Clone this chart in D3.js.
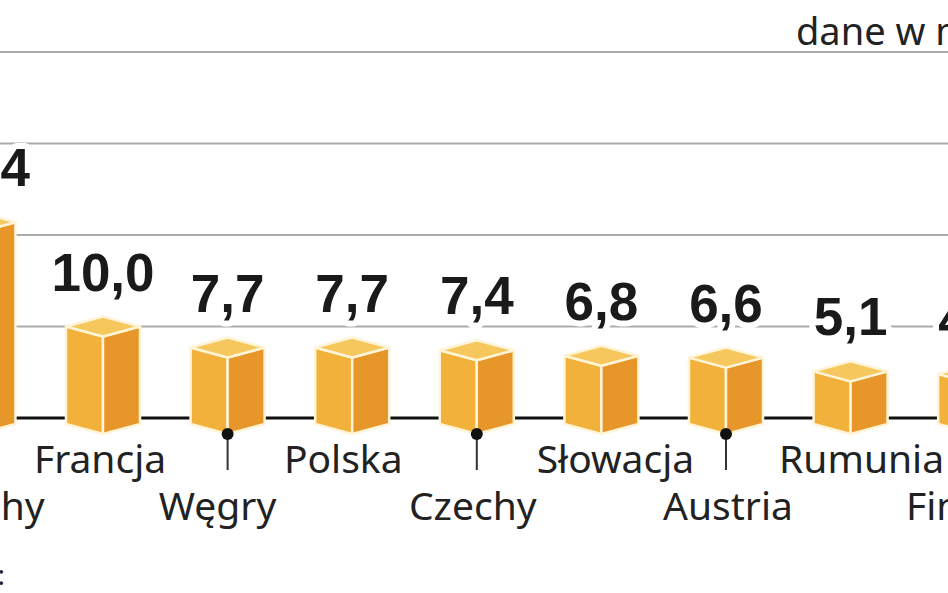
<!DOCTYPE html>
<html>
<head>
<meta charset="utf-8">
<script src="https://cdn.jsdelivr.net/npm/d3@7"></script>
<style>
  body { margin: 0; background: #fff; }
  svg { display: block; }
</style>
</head>
<body>
<svg id="chart"></svg>
<script>
// values (chart is cropped on both sides)
const categories = ['Włochy', 'Francja', 'Węgry', 'Polska', 'Czechy', 'Słowacja', 'Austria', 'Rumunia', 'Finlandia'];
const values = [21.4, 10.0, 7.7, 7.7, 7.4, 6.8, 6.6, 5.1, 4.8];
const gridTicks = [10, 20, 30, 40];
const unitNote = 'dane w mln';
const sourceNote = 'Źródło:';

const width = 948;
const height = 593;
const baseY = 418;
const depth = 10;

const colors = {
  top: '#f6c75c',
  left: '#f1b13a',
  right: '#e7962a',
  edge: '#fff4d6'
};

// hand nudges of the country names, as in the original layout
const labelNudge = { 'Francja': -3, 'Węgry': -10, 'Polska': -9, 'Czechy': -4, 'Słowacja': 14, 'Austria': 2, 'Rumunia': 11, 'Finlandia': 14 };

const svg = d3.select('#chart')
  .attr('width', width)
  .attr('height', height);

const x = d3.scaleBand()
  .domain(categories)
  .range([-58.6, 1012.2])
  .paddingInner(0.406)
  .paddingOuter(0);

const y = d3.scaleLinear()
  .domain([0, 40])
  .range([baseY, 52]);

const fmt = v => d3.format('.1f')(v).replace('.', ',');
const cx = d => x(d.name) + x.bandwidth() / 2;

// grid
svg.append('g')
  .selectAll('line')
  .data(gridTicks)
  .join('line')
  .attr('x1', 0)
  .attr('x2', width)
  .attr('y1', d => y(d))
  .attr('y2', d => y(d))
  .attr('stroke', '#ababab')
  .attr('stroke-width', 2);

// zero line
svg.append('line')
  .attr('x1', 0)
  .attr('x2', width)
  .attr('y1', y(0))
  .attr('y2', y(0))
  .attr('stroke', '#111')
  .attr('stroke-width', 3);

// unit note
svg.append('text')
  .attr('x', 796)
  .attr('y', 45)
  .attr('font-family', '"Noto Sans", sans-serif')
  .attr('font-size', 38)
  .attr('fill', '#222')
  .text(unitNote);

svg.append('text')
  .attr('x', 5)
  .attr('y', 585)
  .attr('text-anchor', 'end')
  .attr('font-family', '"Noto Sans", sans-serif')
  .attr('font-size', 28)
  .attr('fill', '#222')
  .text(sourceNote);

const data = categories.map((c, i) => ({ name: c, value: values[i], i }));

// value labels with white halo so grid lines break around them
svg.append('g')
  .selectAll('text')
  .data(data)
  .join('text')
  .attr('x', cx)
  .attr('y', d => y(d.value) - 36)
  .attr('text-anchor', 'middle')
  .attr('font-family', '"Liberation Sans", Arial, sans-serif')
  .attr('font-weight', 'bold')
  .attr('font-size', 53)
  .attr('fill', '#1a1a1a')
  .attr('stroke', '#fff')
  .attr('stroke-width', 12)
  .attr('stroke-linejoin', 'round')
  .attr('paint-order', 'stroke')
  .text(d => fmt(d.value));

// cubes
const cube = svg.append('g')
  .selectAll('g')
  .data(data)
  .join('g')
  .attr('stroke', colors.edge)
  .attr('stroke-width', 2.5)
  .attr('stroke-linejoin', 'round');

const pts = arr => arr.map(p => p.join(',')).join(' ');

cube.each(function (d) {
  const g = d3.select(this);
  const l = x(d.name);
  const r = l + x.bandwidth();
  const c = cx(d);
  const t = y(d.value);
  const b = baseY + 6;

  g.append('polygon')
    .attr('fill', colors.left)
    .attr('points', pts([[l, t], [c, t + depth], [c, b + depth], [l, b]]));
  g.append('polygon')
    .attr('fill', colors.right)
    .attr('points', pts([[c, t + depth], [r, t], [r, b], [c, b + depth]]));
  g.append('polygon')
    .attr('fill', colors.top)
    .attr('points', pts([[c, t - depth], [r, t], [c, t + depth], [l, t]]));
});

// category labels, alternating rows; lower row gets a leader pin
const lower = data.filter(d => d.i % 2 === 0);

svg.append('g')
  .selectAll('line')
  .data(lower)
  .join('line')
  .attr('x1', cx)
  .attr('x2', cx)
  .attr('y1', baseY + 6 + depth)
  .attr('y2', 470)
  .attr('stroke', '#333')
  .attr('stroke-width', 2);

svg.append('g')
  .selectAll('circle')
  .data(lower)
  .join('circle')
  .attr('cx', cx)
  .attr('cy', baseY + 6 + depth)
  .attr('r', 6)
  .attr('fill', '#111');

svg.append('g')
  .selectAll('text')
  .data(data)
  .join('text')
  .attr('x', d => cx(d) + (labelNudge[d.name] || 0))
  .attr('y', d => d.i % 2 === 0 ? 520 : 473)
  .attr('text-anchor', 'middle')
  .attr('font-family', '"Noto Sans", sans-serif')
  .attr('font-size', 39)
  .attr('fill', '#222')
  .text(d => d.name);
</script>
</body>
</html>
